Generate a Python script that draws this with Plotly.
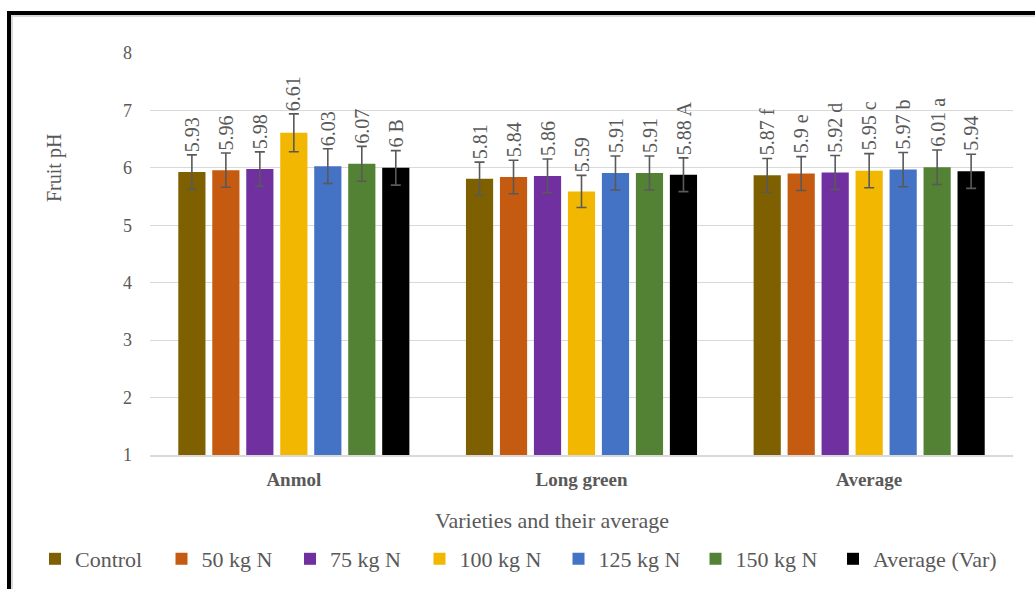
import plotly.graph_objects as go

# Fruit pH by nitrogen dose for each variety and their average
varieties = ["Anmol", "Long green", "Average"]
series_names = ["Control", "50 kg N", "75 kg N", "100 kg N", "125 kg N", "150 kg N", "Average (Var)"]
series_colors = ["#7F6000", "#C55A11", "#7030A0", "#F2B700", "#4472C4", "#548235", "#000000"]

control = [5.93, 5.81, 5.87]
n50 = [5.96, 5.84, 5.90]
n75 = [5.98, 5.86, 5.92]
n100 = [6.61, 5.59, 5.95]
n125 = [6.03, 5.91, 5.97]
n150 = [6.07, 5.91, 6.01]
avg_var = [6.00, 5.88, 5.94]
series_values = [control, n50, n75, n100, n125, n150, avg_var]

# significance letters attached to the labels
letters_control = ["", "", "f"]
letters_n50 = ["", "", "e"]
letters_n75 = ["", "", "d"]
letters_n100 = ["", "", "c"]
letters_n125 = ["", "", "b"]
letters_n150 = ["", "", "a"]
letters_avg = ["B", "A", ""]
series_letters = [letters_control, letters_n50, letters_n75, letters_n100,
                  letters_n125, letters_n150, letters_avg]

ERR_PCT = 5
BARGAP = 0.173
GROUPGAP = 0.2
FONT = "Liberation Serif, Times New Roman, serif"
GREY = "#595959"

# plot area in pixels
W, H = 1035, 589
L, R, T, B = 150, 22, 53, 134
pw, ph = W - L - R, H - T - B

# horizontal pixel centre of each legend swatch
legend_swatch_px = [54, 180.5, 309, 438.5, 577.5, 714.5, 852]


def px_x(px):
    return (px - L) / pw


def px_y(py):
    return (H - B - py) / ph


fig = go.Figure()
n = len(series_names)
legend_ids = ["legend"] + [f"legend{i}" for i in range(2, n + 1)]
for name, color, vals, lid in zip(series_names, series_colors, series_values, legend_ids):
    fig.add_trace(go.Bar(
        name=name, x=varieties, y=vals, marker=dict(color=color, line=dict(width=0)),
        error_y=dict(type="percent", value=ERR_PCT, color=GREY, thickness=1.6, width=5),
        legend=lid, showlegend=True,
    ))

# rotated value labels sitting on top of each error bar
slot = (1 - BARGAP) / n
annotations = []
for k, (vals, lets) in enumerate(zip(series_values, series_letters)):
    for ci, (v, let) in enumerate(zip(vals, lets)):
        txt = f"{v:g}" + (f" {let}" if let else "")
        annotations.append(dict(
            x=ci + (k - (n - 1) / 2) * slot, y=v * (1 + ERR_PCT / 100),
            xref="x", yref="y", text=txt, textangle=-90, showarrow=False,
            xanchor="center", yanchor="bottom", yshift=1,
            font=dict(family=FONT, size=20, color=GREY),
        ))

annotations.append(dict(
    x=px_x(54), y=px_y(168), xref="paper", yref="paper", text="Fruit pH",
    textangle=-90, showarrow=False, xanchor="center", yanchor="middle",
    font=dict(family=FONT, size=20, color=GREY),
))
annotations.append(dict(
    x=px_x(552), y=px_y(520), xref="paper", yref="paper",
    text="Varieties and their average", showarrow=False,
    xanchor="center", yanchor="middle",
    font=dict(family=FONT, size=22, color=GREY),
))

shapes = [
    dict(type="rect", xref="paper", yref="paper", x0=px_x(12), y0=-0.6, x1=1.3, y1=px_y(16),
         line=dict(color="#D9D9D9", width=2), layer="below"),
    dict(type="rect", xref="paper", yref="paper", x0=px_x(9), y0=-0.6, x1=1.3, y1=px_y(13),
         line=dict(color="#000000", width=4)),
]

legends = {}
for lid, cx in zip(legend_ids, legend_swatch_px):
    legends[lid] = dict(
        orientation="h", x=px_x(cx - 19), y=px_y(559), xanchor="left", yanchor="middle",
        font=dict(family=FONT, size=22, color=GREY), itemsizing="constant",
        bgcolor="rgba(0,0,0,0)", visible=True,
    )

fig.update_layout(
    width=W, height=H,
    margin=dict(l=L, r=R, t=T, b=B, autoexpand=False),
    paper_bgcolor="white", plot_bgcolor="white",
    showlegend=True,
    barmode="group", bargap=BARGAP, bargroupgap=GROUPGAP,
    font=dict(family=FONT, color=GREY),
    xaxis=dict(
        type="category", showgrid=False, showline=True, linecolor="#D9D9D9", linewidth=2,
        ticks="", tickfont=dict(family=FONT, size=19, color=GREY, weight="bold"),
        ticklabelstandoff=6,
    ),
    yaxis=dict(
        range=[1, 8], dtick=1, showgrid=True, gridcolor="#D9D9D9", gridwidth=1,
        zeroline=False, showline=False, ticks="",
        tickfont=dict(family=FONT, size=18, color=GREY), ticklabelstandoff=17,
    ),
    annotations=annotations,
    shapes=shapes,
    **legends,
)

fig.write_html("out.html")
